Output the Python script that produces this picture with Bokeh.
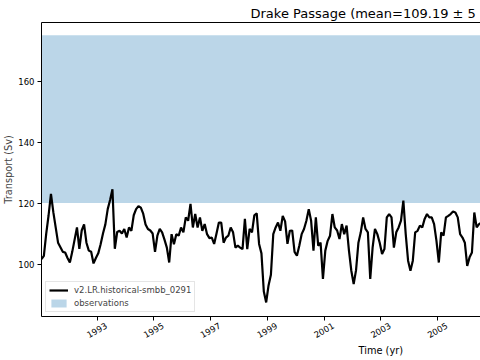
import math
from bokeh.plotting import figure
from bokeh.models import (Range1d, FixedTicker, LinearAxis, Legend, LegendItem, Title,
                          CustomJSTickFormatter)
from bokeh.embed import file_html
from bokeh.resources import INLINE

# ---- data ----
START_YEAR = 1991.0
transport = [
    101.6, 102.7, 110.0, 116.0, 123.0, 117.0, 112.0, 107.0, 105.5, 104.0, 103.8, 102.0,
    100.5, 104.0, 108.0, 112.0, 105.0, 111.0, 113.0, 107.0, 104.4, 104.0, 100.2, 102.0,
    103.5, 106.5, 110.0, 113.0, 118.0, 121.0, 124.5, 105.0, 110.5, 110.9, 110.0, 111.5,
    108.7, 112.0, 110.9, 116.0, 118.0, 119.0, 118.5, 116.5, 113.0, 111.5, 111.0, 110.0,
    104.0, 109.3, 111.5, 110.4, 108.0, 105.4, 100.5, 109.8, 106.5, 109.8, 109.3, 112.0,
    110.4, 115.3, 114.2, 119.7, 112.0, 116.4, 112.0, 115.3, 110.9, 113.1, 109.8, 108.5,
    108.7, 106.6, 110.0, 113.6, 113.6, 107.0, 108.7, 109.3, 112.0, 110.4, 105.4, 106.0,
    105.4, 104.9, 114.8, 104.9, 111.5, 110.4, 116.0, 116.6, 106.6, 103.5, 91.0, 87.4,
    93.0, 96.5, 109.8, 112.0, 113.6, 110.9, 115.8, 114.0, 106.6, 110.9, 111.0, 104.0,
    102.7, 106.0, 109.8, 111.5, 114.2, 118.0, 114.2, 104.4, 115.3, 106.0, 107.0, 95.1,
    104.4, 107.6, 109.3, 116.4, 112.0, 111.0, 108.2, 113.1, 109.8, 112.6, 104.4, 97.8,
    93.4, 98.0, 107.0, 110.4, 115.3, 111.5, 110.4, 95.1, 105.4, 111.5, 109.8, 107.0,
    103.3, 104.9, 115.3, 116.4, 115.3, 105.4, 110.4, 112.0, 114.2, 120.8, 109.8, 101.1,
    97.8, 101.1, 110.4, 110.9, 112.6, 112.0, 114.8, 116.4, 115.3, 115.3, 113.1, 107.6,
    100.5, 110.4, 109.3, 115.3, 115.8, 116.4, 117.2, 116.9, 115.3, 109.8, 108.7, 107.0,
    99.4, 102.2, 103.8, 116.9, 112.0, 113.1, 113.6,
]
times = [START_YEAR + (i + 0.5) / 12.0 for i in range(len(transport))]

OBS_LOW = 120.0
OBS_HIGH = 175.0
obs_low = [OBS_LOW] * len(times)
obs_high = [OBS_HIGH] * len(times)

year_ticks = [1993, 1995, 1997, 1999, 2001, 2003, 2005]
y_ticks = [100, 120, 140, 160]

series_label = "v2.LR.historical-smbb_0291"
obs_label = "observations"
title_text = "Drake Passage (mean=109.19 \u00b1 5"
x_title = "Time (yr)"
y_title = "Transport (Sv)"

# ---- layout ----
W, H = 480, 360
LEFT, TOP, BOTTOM = 41, 22, 44
X_VIEW_END = 2006.51            # the original axes are wider than the picture
Y_VIEW = (82.8, 179.2)
FRAME_W = W - LEFT
LABEL_SHIFT_PX = 9              # centre the rotated year labels on their ticks
yrs_per_px = (X_VIEW_END - times[0]) / FRAME_W
shift = LABEL_SHIFT_PX * yrs_per_px

FONT = "DejaVu Sans"
TICK_FS = "8.5px"
LABEL_FS = "9.8px"

p = figure(width=W, height=H, output_backend="svg", toolbar_location=None,
           x_range=Range1d(times[0], X_VIEW_END), y_range=Range1d(*Y_VIEW),
           min_border_left=LEFT, min_border_right=0, min_border_top=TOP,
           min_border_bottom=BOTTOM)
p.extra_x_ranges = {"labels": Range1d(times[0] - shift, X_VIEW_END - shift)}
p.grid.visible = False
p.outline_line_color = None
p.background_fill_color = "white"
p.border_fill_color = "white"

band = p.varea(x=times, y1=obs_low, y2=obs_high, fill_color="#1f77b4", fill_alpha=0.3)
line = p.line(times, transport, line_color="black", line_width=2.2)

for ax in (p.xaxis[0], p.yaxis[0]):
    ax.axis_line_color = "black"
    ax.major_tick_line_color = "black"
    ax.major_tick_out = 4
    ax.major_tick_in = 0
    ax.minor_tick_line_color = None
    ax.major_label_text_font = FONT
    ax.major_label_text_font_size = TICK_FS
    ax.major_label_text_color = "black"

# x ticks (marks only)
p.xaxis.ticker = FixedTicker(ticks=year_ticks)
p.xaxis.formatter = CustomJSTickFormatter(code="return ''")
p.xaxis.major_label_standoff = 0

# x tick labels (rotated, centred)
lab_axis = LinearAxis(x_range_name="labels", ticker=FixedTicker(ticks=year_ticks),
                      axis_line_color=None, major_tick_line_color=None,
                      minor_tick_line_color=None, major_tick_out=0, major_tick_in=0,
                      major_label_orientation=math.pi / 6, major_label_standoff=4,
                      major_label_text_font=FONT, major_label_text_font_size=TICK_FS,
                      major_label_text_color="black")
p.add_layout(lab_axis, "below")

p.yaxis.ticker = FixedTicker(ticks=y_ticks)
p.yaxis.major_label_standoff = 3
p.yaxis.axis_label = y_title
p.yaxis.axis_label_text_font = FONT
p.yaxis.axis_label_text_font_size = LABEL_FS
p.yaxis.axis_label_text_font_style = "normal"
p.yaxis.axis_label_standoff = 1

# top spine
top = LinearAxis(ticker=FixedTicker(ticks=[]), major_tick_line_color=None,
                 minor_tick_line_color=None, major_label_standoff=0,
                 major_tick_out=0, axis_line_color="black")
p.add_layout(top, "above")

# titles
p.title.text = title_text
p.title.align = "left"
p.title.offset = 209
p.title.text_font = FONT
p.title.text_font_size = "13px"
p.title.text_font_style = "normal"
p.title.text_color = "black"
p.title.standoff = 3

xt = Title(text=x_title, align="left", offset=317, text_font=FONT, standoff=-4,
           text_font_size=LABEL_FS, text_font_style="normal", text_color="black")
p.add_layout(xt, "below")

legend = Legend(items=[LegendItem(label=series_label, renderers=[line]),
                       LegendItem(label=obs_label, renderers=[band])],
                location="bottom_left", margin=4, padding=3, spacing=3,
                glyph_width=19, glyph_height=10, label_height=10, label_standoff=6,
                label_text_font=FONT, label_text_font_size=TICK_FS,
                border_line_color="#cccccc", background_fill_alpha=0.8)
p.add_layout(legend)

open("out.html", "w").write(file_html(p, INLINE))
